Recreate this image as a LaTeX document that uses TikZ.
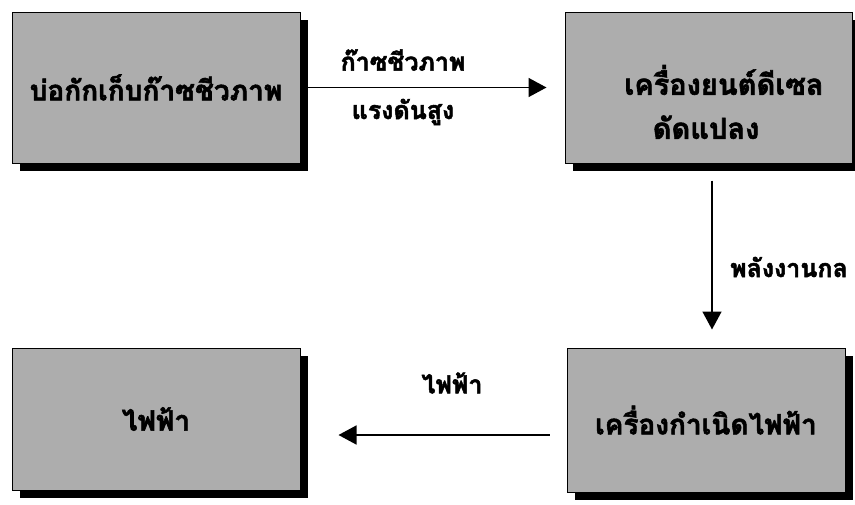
\documentclass[tikz,border=0pt]{standalone}
\usepackage{fontspec}
\newfontfamily\thaifont[Script=Thai,FakeBold=2]{Loma}
\usetikzlibrary{arrows.meta,shadows}
\begin{document}
\begin{tikzpicture}[x=1pt,y=-1pt,
  box/.style={draw=black,line width=1pt,fill=gray!64,
    drop shadow={shadow xshift=8pt,shadow yshift=-8pt,fill=black,opacity=1},
    align=center,font=\thaifont\bfseries\fontsize{28}{44}\selectfont},
  boxtxt/.style={align=center,font=\thaifont\bfseries\fontsize{29}{44}\selectfont},
  lbl/.style={font=\thaifont\bfseries\fontsize{25}{30}\selectfont},
  arr/.style={line width=1.6pt,-{Triangle[length=18pt,width=19pt]}}]
\useasboundingbox (0,0) rectangle (855,504);
\node[box,minimum width=288pt,minimum height=151pt] (b1) at (156,87.5) {บ่อกักเก็บก๊าซชีวภาพ};
\node[box,minimum width=287pt,minimum height=151pt] (b2) at (708.5,87.5) {};
\node[boxtxt] (t2) at (724,102) {เครื่องยนต์ดีเซล\\ดัดแปลง\hspace*{36pt}};
\node[box,minimum width=278pt,minimum height=144pt] (b3) at (706,420) {เครื่องกำเนิดไฟฟ้า};
\node[box,minimum width=288pt,minimum height=142pt] (b4) at (156,419) {ไฟฟ้า};
\draw[arr,shorten >=18pt] (b1.east) -- (b2.west);
\node[lbl] (l1) at (403,60) {ก๊าซชีวภาพ};
\node[lbl] (l2) at (403,112) {แรงดันสูง};
\draw[arr,shorten <=17pt,shorten >=18pt] ([xshift=3.5pt]b2.south) -- ([xshift=3.5pt]b2.south |- b3.north);
\node[lbl] (l3) at (789,267) {พลังงานกล};
\draw[arr,shorten <=17pt,shorten >=38pt] ([yshift=-15pt]b3.west) -- ([yshift=-15pt]b3.west -| b4.east);
\node[lbl] (l4) at (452,383) {ไฟฟ้า};
\end{tikzpicture}
\end{document}
